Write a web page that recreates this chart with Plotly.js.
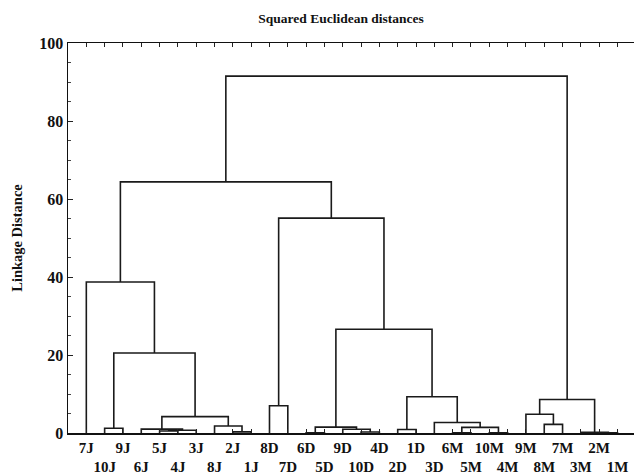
<!DOCTYPE html>
<html>
<head>
<meta charset="utf-8">
<script src="https://cdn.plot.ly/plotly-3.0.1.min.js"></script>
<style>html,body{margin:0;padding:0;background:#fff;}#chart{width:634px;height:476px;}</style>
</head>
<body>
<div id="chart"></div>
<script>
// Leaf order along the x axis
const leaves = ['7J','10J','9J','6J','5J','4J','3J','8J','2J','1J',
                '8D','7D','6D','5D','9D','10D','4D','2D','1D','3D',
                '6M','5M','10M','4M','9M','8M','7M','3M','2M','1M'];
// Linkage: merge k joins mergeLeft[k] and mergeRight[k] at mergeHeight[k] -> cluster 'C'+(k+1)
const mergeLeft  = ['10J','5J','C2','6J','2J','8J','C4','C1','7J',
                    '8D','6D','10D','9D','C11','2D','6M','10M','C16','3D','C15','C14','C10','C9',
                    '8M','9M','2M','3M','C25','C23'];
const mergeRight = ['9J','4J','3J','C3','1J','C5','C6','C7','C8',
                    '7D','5D','4D','C12','C13','1D','5M','4M','C17','C18','C19','C20','C21','C22',
                    '7M','C24','1M','C26','C27','C28'];
const mergeHeight = [1.2,0.5,0.7,1.0,0.3,1.8,4.2,20.5,38.7,
                     7.0,0.08,0.25,0.95,1.5,0.9,0.08,0.08,1.45,2.7,9.3,26.6,55.1,64.4,
                     2.2,4.8,0.05,0.2,8.6,91.5];
const yTickVals = [0,20,40,60,80,100];

const pos = {}, hgt = {};
leaves.forEach((l,i)=>{pos[l]=i+1; hgt[l]=0;});
const xs=[], ys=[];
for (let k=0;k<mergeLeft.length;k++){
  const a=mergeLeft[k], b=mergeRight[k], h=mergeHeight[k];
  xs.push(pos[a],pos[a],pos[b],pos[b],null);
  ys.push(hgt[a],h,h,hgt[b],null);
  const id='C'+(k+1);
  pos[id]=(pos[a]+pos[b])/2; hgt[id]=h;
}

const serif = '"Liberation Serif","Times New Roman",serif';
const trace = {x:xs, y:ys, mode:'lines', type:'scatter', line:{color:'#1a1a1a', width:1.6}, hoverinfo:'skip', cliponaxis:false};

const layout = {
  width:634, height:476,
  margin:{l:68, r:0, t:43, b:43},
  paper_bgcolor:'#fff', plot_bgcolor:'#fff',
  showlegend:false,
  title:{text:'Squared Euclidean distances', font:{family:serif, size:13.5, weight:700, color:'#111'},
         x:0.538, xref:'container', xanchor:'center', y:0.962, yref:'container', yanchor:'middle'},
  xaxis:{range:[0,30.9], tickvals:leaves.map((l,i)=>i+1),
         ticktext:leaves.map((l,i)=> i%2 ? '<br>'+l : l),
         ticks:'inside', ticklen:4, tickcolor:'#222', tickwidth:1,
         showline:true, linecolor:'#111', linewidth:1.5, mirror:'ticks',
         showgrid:false, zeroline:false, tickangle:0,
         tickfont:{family:serif, size:15, weight:700, color:'#111'}},
  yaxis:{range:[0,100], tickvals:yTickVals, ticktext:yTickVals.map(String),
         ticks:'inside', ticklen:5, tickcolor:'#222', tickwidth:1,
         minor:{ticks:'inside', dtick:5, ticklen:3, tickcolor:'#444'},
         showline:true, linecolor:'#111', linewidth:1.5, mirror:false,
         showgrid:false, zeroline:false,
         tickfont:{family:serif, size:16, weight:700, color:'#111'},
         title:{text:'Linkage Distance', font:{family:serif, size:14.5, weight:700, color:'#111'}, standoff:13}}
};
Plotly.newPlot('chart',[trace],layout,{displayModeBar:false, staticPlot:true});
</script>
</body>
</html>
